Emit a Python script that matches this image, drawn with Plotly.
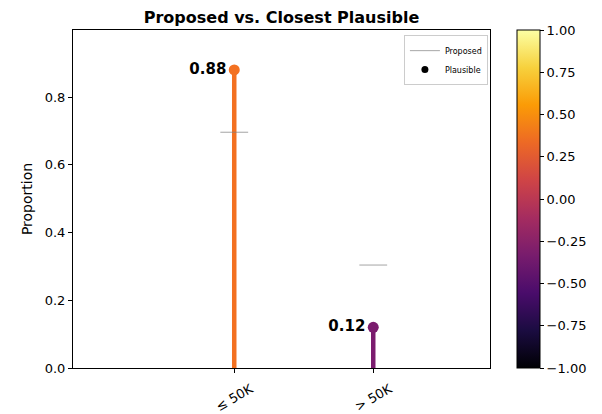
import plotly.graph_objects as go

categories = ["≤ 50K", "> 50K"]
proposed = [0.696, 0.304]
plausible = [0.88, 0.12]
colors = ["#f37121", "#7b1c6e"]
label_texts = ["0.88", "0.12"]
cbar_ticks = [-1.0, -0.75, -0.5, -0.25, 0.0, 0.25, 0.5, 0.75, 1.0]

FONT = "DejaVu Sans"
fig = go.Figure()
xs = list(range(len(categories)))
half = 0.1

for i, x in enumerate(xs):
    fig.add_trace(go.Scatter(x=[x, x], y=[0, plausible[i]], mode="lines",
                             line=dict(color=colors[i], width=4.5), showlegend=False, hoverinfo="skip"))
    fig.add_trace(go.Scatter(x=[x - half, x + half], y=[proposed[i], proposed[i]], mode="lines",
                             line=dict(color="rgba(128,128,128,0.6)", width=1.2), showlegend=False, hoverinfo="skip"))
    fig.add_trace(go.Scatter(x=[x], y=[plausible[i]], mode="markers+text",
                             marker=dict(color=colors[i], size=11),
                             text=["<b>" + label_texts[i] + "</b>"], textposition="middle left",
                             textfont=dict(family=FONT, size=15, color="black"),
                             showlegend=False, hoverinfo="skip"))
    fig.add_annotation(x=x, xref="x", y=0, yref="paper", text=categories[i], showarrow=False,
                       textangle=-30, xanchor="center", yanchor="top", yshift=-11, borderpad=0,
                       font=dict(family=FONT, size=13, color="black"))

fig.add_trace(go.Scatter(x=[None], y=[None], mode="lines", name="Proposed",
                         line=dict(color="rgba(128,128,128,0.6)", width=1.2)))
fig.add_trace(go.Scatter(x=[None], y=[None], mode="markers", name="Plausible",
                         marker=dict(color="black", size=7)))

fig.add_trace(go.Scatter(x=[None], y=[None], mode="markers", showlegend=False,
                         marker=dict(color=[0], colorscale="Inferno", cmin=-1, cmax=1, showscale=True,
                                     colorbar=dict(x=1.065, xanchor="left", y=0.5, yanchor="middle",
                                                   len=1, lenmode="fraction", thickness=23,
                                                   xpad=0, ypad=0,
                                                   outlinewidth=1, outlinecolor="black",
                                                   tickvals=cbar_ticks,
                                                   ticktext=[f"{v:.2f}".replace("-", "−") for v in cbar_ticks],
                                                   ticks="outside", ticklen=4, tickcolor="black",
                                                   tickfont=dict(family=FONT, size=13, color="black")))))

W, H = 594, 406
L, T, PW, PH = 65, 22, 417, 338
fig.update_layout(
    width=W, height=H,
    margin=dict(l=L, r=W - L - PW, t=T, b=H - T - PH, autoexpand=False),
    paper_bgcolor="white", plot_bgcolor="white",
    font=dict(family=FONT, size=13, color="black"),
    title=dict(text="<b>Proposed vs. Closest Plausible</b>", x=(L + PW / 2) / W, xanchor="center",
               y=1 - 9 / H, yanchor="middle", font=dict(family=FONT, size=16, color="black")),
    legend=dict(x=0.995, y=0.985, xanchor="right", yanchor="top", bordercolor="#cccccc", borderwidth=1,
                bgcolor="white", font=dict(family=FONT, size=8), tracegroupgap=0, itemwidth=30),
    showlegend=True,
)
fig.update_xaxes(range=[-1.16, 1.84], tickvals=xs, ticktext=["" for _ in categories],
                 showline=True, linecolor="black", linewidth=1, mirror=True, ticks="outside",
                 ticklen=4, tickcolor="black", showgrid=False, zeroline=False,
                 tickfont=dict(family=FONT, size=13))
fig.update_yaxes(range=[0, 0.998], tickvals=[0, 0.2, 0.4, 0.6, 0.8], tickformat=".1f",
                 showline=True, linecolor="black", linewidth=1, mirror=True, ticks="outside",
                 ticklen=4, tickcolor="black", showgrid=False, zeroline=False,
                 title=dict(text="Proportion", font=dict(family=FONT, size=14), standoff=8),
                 tickfont=dict(family=FONT, size=13))

fig.write_html("out.html")
